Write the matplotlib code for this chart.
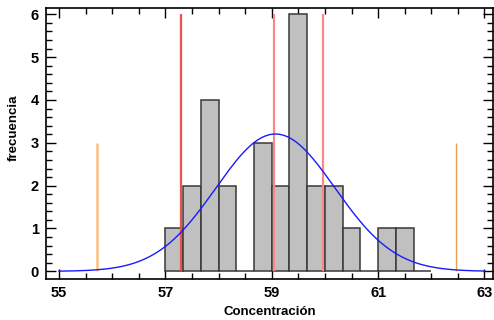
import numpy as np
import matplotlib
matplotlib.use("Agg")
import matplotlib.pyplot as plt
from matplotlib.ticker import FixedLocator, MultipleLocator

plt.rcParams['font.family'] = ['Liberation Sans Narrow', 'Liberation Sans', 'DejaVu Sans']
plt.rcParams['font.weight'] = 'bold'

# histogram bins (width 1/3) from 57 to 62
bin_edges = [57.0, 57.333, 57.667, 58.0, 58.333, 58.667, 59.0, 59.333,
             59.667, 60.0, 60.333, 60.667, 61.0, 61.333, 61.667, 62.0]
counts = [1, 2, 4, 2, 0, 3, 2, 6, 2, 2, 1, 0, 1, 1, 0]

# fitted normal
mean_fit = 59.07
sd_fit = 1.12

# vertical reference lines
red_x = [57.29, 59.04, 59.97]
red_h = 6
orange_x = [55.71, 62.46]
orange_h = 3

x_ticks = [55, 57, 59, 61, 63]

fig = plt.figure(figsize=(4.94, 3.2), dpi=100)
ax = fig.add_axes([0.0925, 0.128, 0.906, 0.847])

lefts = np.array(bin_edges[:-1])
widths = np.diff(bin_edges)
ax.bar(lefts, counts, width=widths, align='edge', color='#c0c0c0',
       edgecolor='#383838', linewidth=1.1, zorder=2)

xs = np.linspace(55, 63, 300)
n = sum(counts)
bw = 1.0 / 3
ys = n * bw / (sd_fit * np.sqrt(2 * np.pi)) * np.exp(-0.5 * ((xs - mean_fit) / sd_fit) ** 2)
ax.plot(xs, ys, color='#1a1aff', lw=1.0, zorder=4)

ax.vlines(red_x[0], 0, red_h, color='#f05050', lw=1.6, zorder=3)
ax.vlines(red_x[1:], 0, red_h, color='#f88a8a', lw=1.6, zorder=3)
ax.vlines(orange_x[0], 0, orange_h, color='#fcc080', lw=1.8, zorder=3)
ax.vlines(orange_x[1], 0, orange_h, color='#eaa050', lw=1.0, zorder=3)

ax.set_xlim(54.75, 63.165)
ax.set_ylim(-0.18, 6.147)
ax.xaxis.set_major_locator(FixedLocator(x_ticks))
ax.xaxis.set_minor_locator(MultipleLocator(0.5))
ax.yaxis.set_major_locator(MultipleLocator(1))
ax.yaxis.set_minor_locator(MultipleLocator(0.2))
ax.tick_params(which='both', direction='in', top=True, right=True,
               color='black', width=1.0)
ax.tick_params(which='major', length=7, labelsize=10.5, pad=5)
ax.tick_params(which='minor', length=4)
for sp in ax.spines.values():
    sp.set_linewidth(1.2)

ax.set_xlabel('Concentración', fontsize=9.5, fontweight='bold')
ax.set_ylabel('frecuencia', fontsize=9.5, fontweight='bold')
ax.xaxis.set_label_coords(0.5, -0.1)
ax.yaxis.set_label_coords(-0.058, 0.56)

fig.savefig('out.png', dpi=100)
